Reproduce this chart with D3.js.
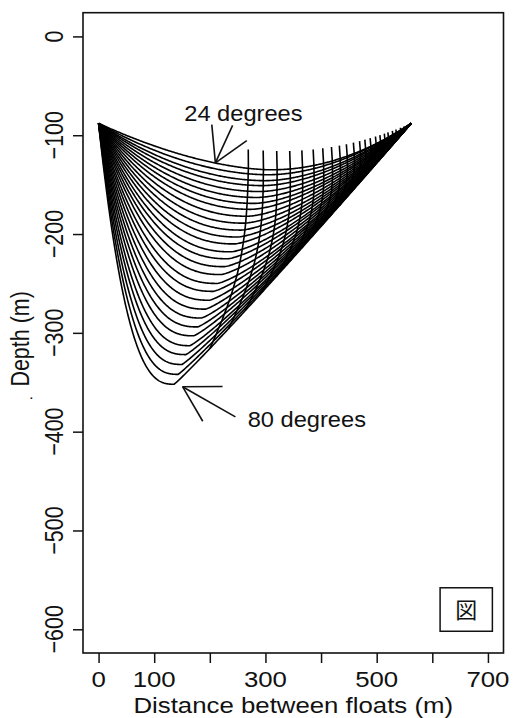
<!DOCTYPE html>
<html>
<head>
<meta charset="utf-8">
<script src="https://cdn.jsdelivr.net/npm/d3@7"></script>
<style>
  html, body { margin: 0; padding: 0; background: #fff; }
  text { font-family: "Liberation Sans", Arial, Helvetica, sans-serif; fill: #111; }
</style>
</head>
<body>
<svg id="chart" width="513" height="718"></svg>
<script>
// Mainline profiles between two floats, one per setting angle (degrees)
const lineAngles   = [24, 26, 28, 30, 32, 34, 36, 38, 40, 42, 44, 46, 48, 50, 52,
                      54, 56, 58, 60, 62, 64, 66, 68, 70, 72, 74, 76, 78, 80];
// deepest point of each profile (m) and where along the span it lies (m)
const lowestDepth  = [-135, -140, -146, -151, -157, -163, -169, -175, -182, -189,
                      -196, -203, -210, -218, -225, -233, -241, -250, -258, -267,
                      -276, -285, -294, -303, -313, -322, -332, -342, -352];
const lowestX      = [310, 305, 300, 295, 290, 285, 280, 274, 268, 262, 256, 250,
                      244, 238, 232, 226, 220, 213, 206, 199, 192, 185, 178, 171,
                      164, 157, 150, 143, 136];
// shallower settings, used only to start the hook tracks
const guideAngles  = [16, 18, 20, 22];
const guideDepth   = [-116, -121, -126, -131];
const guideX       = [330, 325, 320, 315];
// hook positions, given as distance along the 24-degree profile (m)
const hookX        = [268, 295, 320, 344, 366, 386, 404, 420, 434, 447, 459, 470,
                      480, 489, 498, 506, 514, 521, 528, 535, 542, 549, 555];
// float attachment
const floatDepth = -88;
const floatSpan  = 562;
// axes
const xTicks       = [0, 100, 200, 300, 400, 500, 600, 700];
const xTickLabels  = [0, 100, 300, 500, 700];
const yTicks       = [0, -100, -200, -300, -400, -500, -600];

const svg = d3.select("#chart");
const box = { left: 83, right: 503.5, top: 12.7, bottom: 653 };
const x = d3.scaleLinear().domain([-28, 728]).range([box.left, box.right]);
const y = d3.scaleLinear().domain([24, -624]).range([box.top, box.bottom]);
const FS = 21.5; // lettering size
const SX = 1.2;  // horizontal stretch of the lettering

// profile geometry: steep descent from the float, then a straighter rise
function profile(xv, dv) {
  const sag = floatDepth - dv;
  const t = Math.sqrt(Math.max(0, Math.min(1, (sag - 47) / 217)));
  const p = 1.7 + 1.0 * t, q = 2.0 - 0.95 * t;
  const n = 160, pts = [];
  for (let k = 0; k <= n; k++) {
    const u = k / n;
    pts.push([xv * u, floatDepth + (dv - floatDepth) * (1 - Math.pow(1 - u, p))]);
  }
  for (let k = 1; k <= n; k++) {
    const v = k / n;
    pts.push([xv + (floatSpan - xv) * v, dv + (floatDepth - dv) * Math.pow(v, q)]);
  }
  const cum = [0];
  for (let k = 1; k < pts.length; k++) {
    cum.push(cum[k - 1] + Math.hypot(pts[k][0] - pts[k - 1][0], pts[k][1] - pts[k - 1][1]));
  }
  return { pts, cum, len: cum[cum.length - 1] };
}
function pointAt(pr, frac) {
  const s = frac * pr.len;
  let k = d3.bisectLeft(pr.cum, s);
  if (k <= 0) return pr.pts[0];
  if (k >= pr.pts.length) return pr.pts[pr.pts.length - 1];
  const a = pr.cum[k - 1], b = pr.cum[k], w = (s - a) / (b - a || 1);
  return [pr.pts[k - 1][0] + w * (pr.pts[k][0] - pr.pts[k - 1][0]),
          pr.pts[k - 1][1] + w * (pr.pts[k][1] - pr.pts[k - 1][1])];
}

const profiles = lineAngles.map((a, i) => profile(lowestX[i], lowestDepth[i]));
const guides = guideAngles.map((a, i) => profile(guideX[i], guideDepth[i]));

// hook fractions along the line, from the 24-degree profile
const ref = profiles[0];
const hookFrac = hookX.map(hx => {
  const k = ref.pts.findIndex(pt => pt[0] >= hx);
  return ref.cum[k] / ref.len;
});

const line = d3.line().x(d => x(d[0])).y(d => y(d[1]));
const plot = svg.append("g");

plot.selectAll("path.profile").data(profiles).join("path")
  .attr("class", "profile")
  .attr("d", d => line(d.pts))
  .attr("fill", "none").attr("stroke", "#000").attr("stroke-width", 1.6)
  .attr("stroke-linejoin", "round");

const tracks = hookFrac.map(f => guides.concat(profiles).map(pr => pointAt(pr, f)));
plot.selectAll("path.track").data(tracks).join("path")
  .attr("class", "track")
  .attr("d", line)
  .attr("fill", "none").attr("stroke", "#000").attr("stroke-width", 1.6);

// frame
svg.append("rect")
  .attr("x", box.left).attr("y", box.top)
  .attr("width", box.right - box.left).attr("height", box.bottom - box.top)
  .attr("fill", "none").attr("stroke", "#111").attr("stroke-width", 1.6);

// axes
const xAxis = svg.append("g").attr("transform", `translate(0,${box.bottom})`)
  .call(d3.axisBottom(x).tickValues(xTicks).tickSize(10).tickFormat(""));
xAxis.select(".domain").remove();
xAxis.selectAll("line").attr("stroke", "#111").attr("stroke-width", 1.5);
svg.selectAll("text.xlab").data(xTickLabels).join("text")
  .attr("class", "xlab")
  .attr("transform", d => `translate(${x(d)},687) scale(${SX},1)`)
  .attr("text-anchor", "middle").attr("font-size", FS)
  .text(d => d);

const yAxis = svg.append("g").attr("transform", `translate(${box.left},0)`)
  .call(d3.axisLeft(y).tickValues(yTicks).tickSize(10).tickFormat(""));
yAxis.select(".domain").remove();
yAxis.selectAll("line").attr("stroke", "#111").attr("stroke-width", 1.5);
svg.selectAll("text.ylab").data(yTicks).join("text")
  .attr("class", "ylab")
  .attr("transform", d => `translate(63,${y(d)}) scale(${SX},1) rotate(-90)`)
  .attr("text-anchor", "middle").attr("font-size", FS)
  .text(d => d === 0 ? "0" : "\u2212" + Math.abs(d));

// axis titles
svg.append("text")
  .attr("transform", `translate(${(box.left + box.right) / 2},713) scale(${SX},1)`)
  .attr("text-anchor", "middle").attr("font-size", FS)
  .text("Distance between floats (m)");
svg.append("text")
  .attr("transform", `translate(29,${(box.top + box.bottom) / 2 + 6}) scale(${SX},1) rotate(-90)`)
  .attr("text-anchor", "middle").attr("font-size", FS)
  .text("Depth (m)");
svg.append("text")
  .attr("transform", `translate(29,399) scale(${SX},1)`)
  .attr("font-size", 14).text(".");

// angle annotations
function arrow(tail, tip, head) {
  const x0 = x(tail[0]), y0 = y(tail[1]), x1 = x(tip[0]), y1 = y(tip[1]);
  const ang = Math.atan2(y0 - y1, x0 - x1);
  const g = svg.append("g").attr("stroke", "#111").attr("stroke-width", 1.6).attr("fill", "none");
  g.append("line").attr("x1", x0).attr("y1", y0).attr("x2", x1).attr("y2", y1);
  [-Math.PI / 6, Math.PI / 6].forEach(da => {
    g.append("line").attr("x1", x1).attr("y1", y1)
      .attr("x2", x1 + head * Math.cos(ang + da)).attr("y2", y1 + head * Math.sin(ang + da));
  });
}
arrow([241, -90], [210, -128], 38.5);
arrow([246, -385], [151, -354.5], 40);

svg.append("text")
  .attr("transform", `translate(${x(154)},${y(-86)}) scale(1.1,1)`)
  .attr("font-size", FS).text(lineAngles[0] + " degrees");
svg.append("text")
  .attr("transform", `translate(${x(268)},${y(-395)}) scale(1.1,1)`)
  .attr("font-size", FS).text(lineAngles[lineAngles.length - 1] + " degrees");

// figure tag
svg.append("rect")
  .attr("x", x(614)).attr("y", y(-558))
  .attr("width", x(708) - x(614)).attr("height", y(-602) - y(-558))
  .attr("fill", "none").attr("stroke", "#111").attr("stroke-width", 1.5);
svg.append("text")
  .attr("x", x(661)).attr("y", y(-580) + 8)
  .attr("text-anchor", "middle").attr("font-size", 22)
  .style("font-family", "'Noto Sans CJK JP', sans-serif")
  .text("図");
</script>
</body>
</html>
